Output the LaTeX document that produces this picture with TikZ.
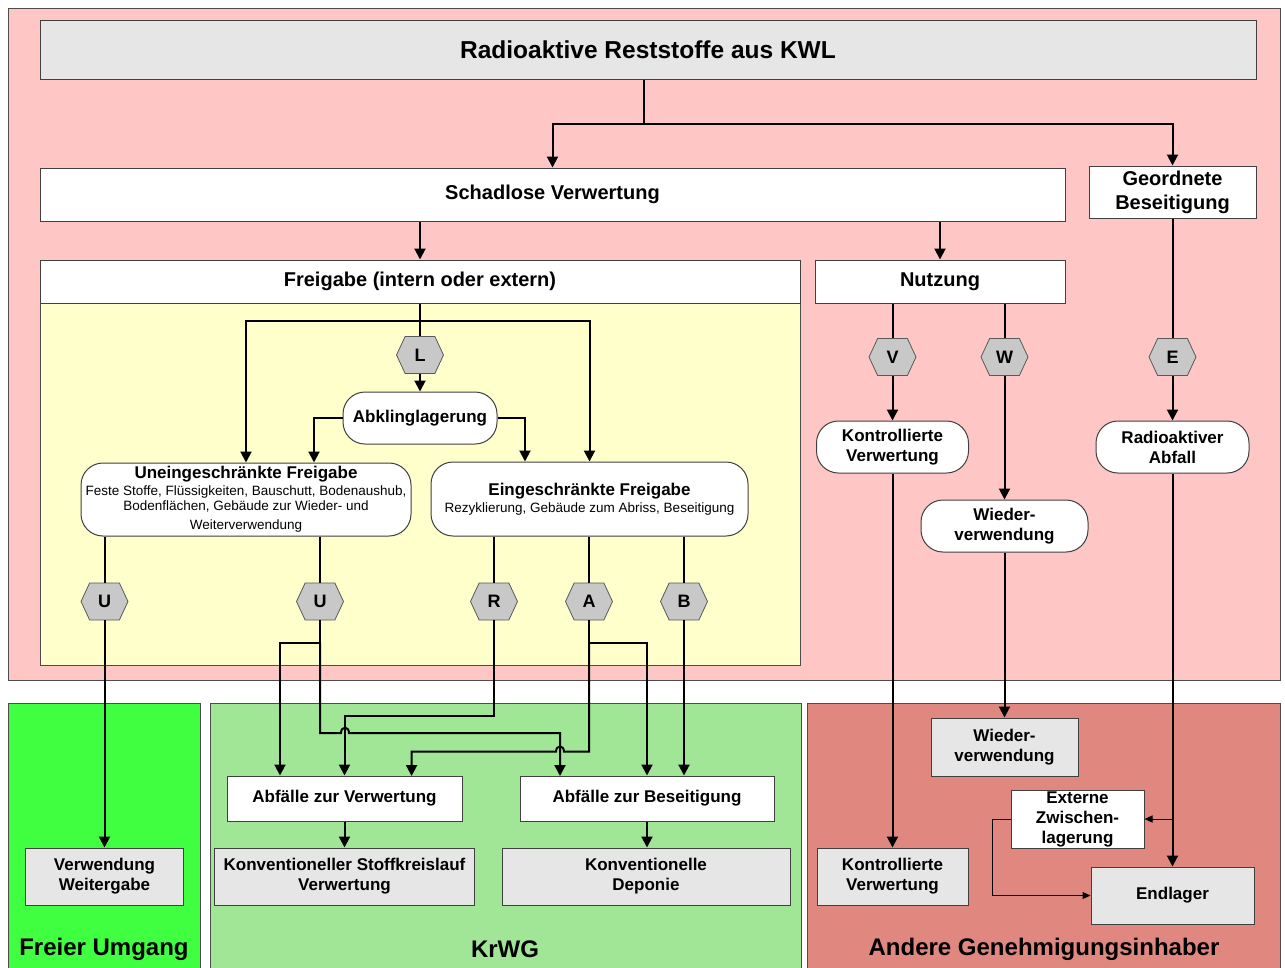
\documentclass[tikz,border=0pt]{standalone}
\usepackage{fontspec}
\setmainfont{Liberation Sans}
\usetikzlibrary{arrows.meta,shapes.symbols,calc}
\definecolor{pinkbg}{RGB}{255,198,198}
\definecolor{yellowbg}{RGB}{255,255,204}
\definecolor{freeg}{RGB}{64,255,64}
\definecolor{krwg}{RGB}{160,230,150}
\definecolor{andere}{RGB}{224,136,128}
\definecolor{graybox}{RGB}{230,230,230}
\definecolor{hexfill}{RGB}{200,200,200}
\begin{document}
\begin{tikzpicture}[x=1pt,y=-1pt,
  arr/.style={-{Triangle[length=11pt,width=11pt]}},
  ln/.style={line width=2pt, black},
  thinarr/.style={line width=1pt, black, -{Triangle[length=8pt,width=7pt]}},
  bx/.style={draw=black!75, line width=1pt, inner sep=0pt, align=center, font=\bfseries\fontsize{17}{20}\selectfont},
  wbox/.style={bx, fill=white},
  gbox/.style={bx, fill=graybox},
  rbox/.style={bx, fill=white, rounded corners=22pt},
  bigf/.style={font=\bfseries\fontsize{20}{24}\selectfont},
  hex/.style={draw=black!65, fill=hexfill, line width=0.8pt, signal, signal to=east and west, signal pointer angle=130, minimum width=47pt, minimum height=37pt, inner sep=0pt, font=\bfseries\fontsize{18}{20}\selectfont},
  region/.style={draw=black!70, line width=1pt},
  regtext/.style={font=\bfseries\fontsize{24}{28}\selectfont}
]
\useasboundingbox (0,0) rectangle (1285,967);
\fill[white] (0,0) rectangle (1285,967);
% background regions
\draw[region, fill=pinkbg] (8,8) rectangle (1280,680);
\draw[region, fill=yellowbg] (40,303) rectangle (800,665);
\draw[region, fill=freeg] (8,703) rectangle (200,975);
\draw[region, fill=krwg] (210,703) rectangle (801,975);
\draw[region, fill=andere] (807,703) rectangle (1280,975);
\node[regtext] (lfree) at (104,949) {Freier Umgang};
\node[regtext] (lkrwg) at (505,949) {KrWG};
\node[regtext] (landere) at (1044,949) {Andere Genehmigungsinhaber};

% top boxes
\node[gbox, minimum width=1216pt, minimum height=59pt, font=\bfseries\fontsize{24.5}{28}\selectfont] (title) at (648,49.5) {Radioaktive Reststoffe aus KWL};
\node[wbox, bigf, minimum width=1025pt, minimum height=53pt] (sv) at (552.5,194.5) {Schadlose Verwertung};
\node[wbox, bigf, minimum width=167pt, minimum height=52pt] (gb) at (1172.5,192) {Geordnete\\Beseitigung};
\node[wbox, bigf, minimum width=760pt, minimum height=43pt] (fg) at (420,281.5) {Freigabe (intern oder extern)};
\node[wbox, bigf, minimum width=250pt, minimum height=43pt] (nu) at (940,281.5) {Nutzung};

% hexagons
\node[hex] (hL) at (420,355) {L};
\node[hex] (hV) at (892.5,357) {V};
\node[hex] (hW) at (1004.5,357) {W};
\node[hex] (hE) at (1172.5,357) {E};
\node[hex] (hU1) at (104.5,601.5) {U};
\node[hex] (hU2) at (320,601.5) {U};
\node[hex] (hR) at (494,601.5) {R};
\node[hex] (hA) at (589,601.5) {A};
\node[hex] (hB) at (684,601.5) {B};

% rounded boxes
\node[rbox, minimum width=154pt, minimum height=52pt] (ab) at (420,418) {Abklinglagerung};
\node[rbox, minimum width=330pt, minimum height=73pt, font=\fontsize{13.5}{15}\selectfont] (uf) at (246,499.5)
  {{\bfseries\fontsize{17}{19}\selectfont Uneingeschränkte Freigabe}\\[2pt]
   Feste Stoffe, Flüssigkeiten, Bauschutt, Bodenaushub,\\
   Bodenflächen, Gebäude zur Wieder- und\\[4pt]
   Weiterverwendung};
\node[rbox, minimum width=317pt, minimum height=74pt, font=\fontsize{13.5}{15}\selectfont] (ef) at (589.5,499)
  {{\bfseries\fontsize{17}{19}\selectfont Eingeschränkte Freigabe}\\[2pt]
   Rezyklierung, Gebäude zum Abriss, Beseitigung};
\node[rbox, minimum width=152pt, minimum height=52pt] (kv) at (892.5,447) {Kontrollierte\\Verwertung};
\node[rbox, minimum width=153pt, minimum height=52pt] (ra) at (1172.5,447) {Radioaktiver\\Abfall};
\node[rbox, minimum width=167pt, minimum height=52pt] (wv) at (1004.5,526) {Wieder-\\verwendung};

% lower boxes
\node[gbox, minimum width=158pt, minimum height=57pt] (vw) at (104.5,876.5) {Verwendung\\Weitergabe};
\node[wbox, minimum width=235pt, minimum height=45pt] (azv) at (344.5,798.5) {Abfälle zur Verwertung};
\node[wbox, minimum width=254pt, minimum height=45pt] (azb) at (647,798.5) {Abfälle zur Beseitigung};
\node[gbox, minimum width=260pt, minimum height=57pt] (ks) at (344.5,876.5) {Konventioneller Stoffkreislauf\\Verwertung};
\node[gbox, minimum width=288pt, minimum height=57pt] (kd) at (646,876.5) {Konventionelle\\Deponie};
\node[gbox, minimum width=147pt, minimum height=58pt] (wv2) at (1004.5,747) {Wieder-\\verwendung};
\node[wbox, minimum width=133pt, minimum height=58pt] (ez) at (1077.5,819) {Externe\\Zwischen-\\lagerung};
\node[gbox, minimum width=151pt, minimum height=57pt] (kv2) at (892.5,876.5) {Kontrollierte\\Verwertung};
\node[gbox, minimum width=163pt, minimum height=57pt] (el) at (1172.5,895.5) {Endlager};

% connectors top
\coordinate (tj) at (644,124);
\draw[ln] (tj |- title.south) -- (tj);
\draw[ln,arr] (tj) -| (sv.north);
\draw[ln,arr] (tj) -| (gb.north);
\draw[ln,arr] (sv.south -| fg.north) -- (fg.north);
\draw[ln,arr] (sv.south -| nu.north) -- (nu.north);

% Freigabe
\coordinate (fj) at (420,321);
\draw[ln] (fg.south) -- (hL.north);
\draw[ln,arr] (fj) -| (uf.north);
\draw[ln,arr] (fj) -| (ef.north);
\draw[ln,arr] (hL.south) -- (ab.north);
\coordinate (ufa) at (314,0);
\coordinate (efa) at (525,0);
\draw[ln,arr] (ab.west) -| (ufa |- uf.north);
\draw[ln,arr] (ab.east) -| (efa |- ef.north);

\draw[ln] (uf.south -| hU1) -- (hU1.north);
\draw[ln,arr] (hU1.south) -- (vw.north);
\draw[ln] (uf.south -| hU2) -- (hU2.north);
\draw[ln] (ef.south -| hR) -- (hR.north);
\draw[ln] (ef.south -| hA) -- (hA.north);
\draw[ln] (ef.south -| hB) -- (hB.north);

% U2 branches
\coordinate (u2j) at (320,643);
\coordinate (azvl) at (280,0);
\draw[ln] (hU2.south) -- (u2j);
\draw[ln,arr] (u2j) -| (azvl |- azv.north);
\draw[ln,arr] (u2j) -- (320,733) -- (341,733) .. controls (341,726) and (349,726) .. (349,733) -- (560,733) -- (560,776);
% R
\draw[ln,arr] (hR.south) -- (494,716) -| (azv.north);
% A
\coordinate (aj) at (589,643);
\draw[ln] (hA.south) -- (aj);
\draw[ln,arr] (aj) -| (azb.north);
\draw[ln,arr] (aj) -- (589,751.7) -- (564,751.7) .. controls (564,744.7) and (556,744.7) .. (556,751.7) -- (411.6,751.7) -- (411.6,776);
% B
\draw[ln,arr] (hB.south) -- (hB.south |- azb.north);
\draw[ln,arr] (azv.south) -- (azv.south |- ks.north);
\draw[ln,arr] (azb.south) -- (azb.south |- kd.north);

% right side
\draw[ln] (nu.south -| hV) -- (hV.north);
\draw[ln,arr] (hV.south) -- (kv.north);
\draw[ln,arr] (kv.south) -- (kv2.north);
\draw[ln] (nu.south -| hW) -- (hW.north);
\draw[ln,arr] (hW.south) -- (wv.north);
\draw[ln,arr] (wv.south) -- (wv2.north);
\draw[ln] (gb.south) -- (hE.north);
\draw[ln,arr] (hE.south) -- (ra.north);
\draw[ln,arr] (ra.south) -- (el.north);
\draw[thinarr] (ra.south |- ez.east) -- (ez.east);
\draw[thinarr] (ez.west) -- ++(-18,0) |- (el.west);
\end{tikzpicture}
\end{document}
